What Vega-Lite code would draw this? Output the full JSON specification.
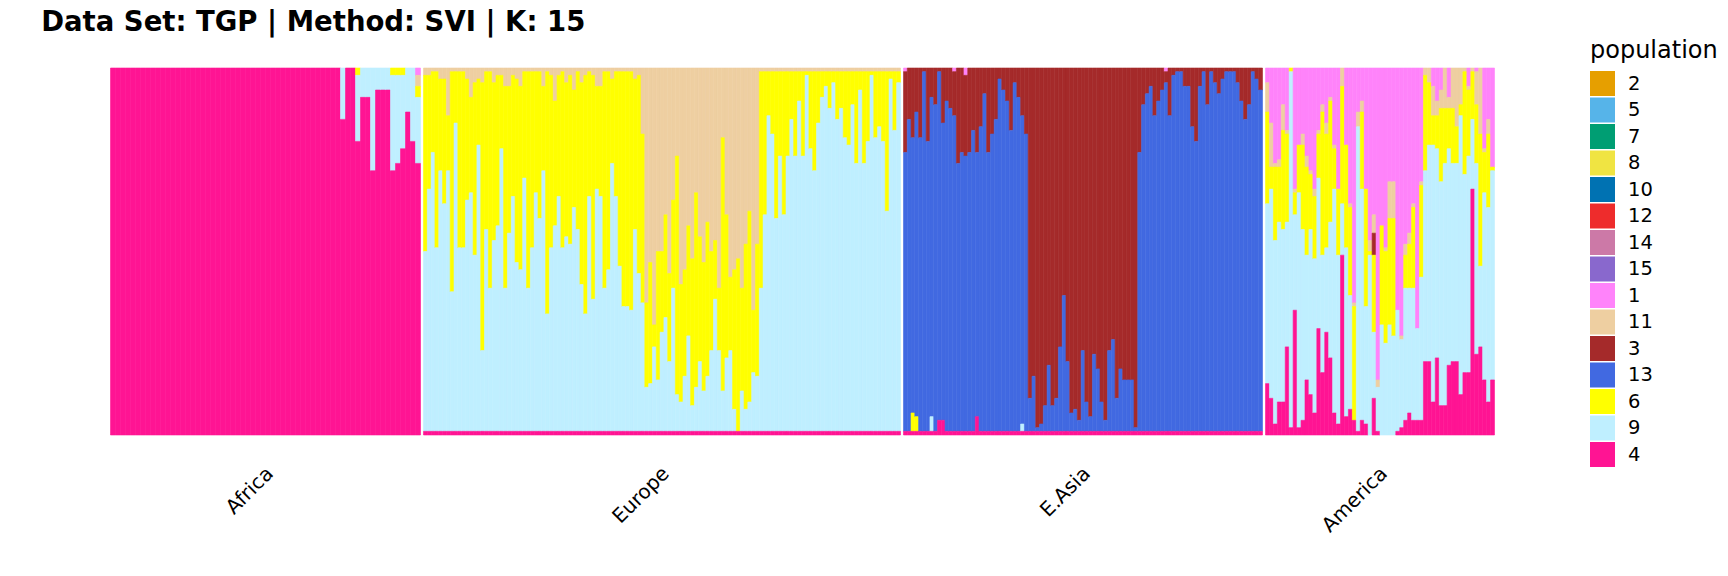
{
"$schema":"https://vega.github.io/schema/vega-lite/v6.json",
"background":"white",
"padding":{"left":40.5,"top":8,"right":0,"bottom":0},
"title":{"text":"Data Set: TGP | Method: SVI | K: 15","anchor":"start","dx":-69,"font":"DejaVu Sans","fontSize":27.5,"fontWeight":"bold","color":"black","offset":3},
"datasets":{
"ranks":[{"k":"4","rk":1},{"k":"9","rk":2},{"k":"6","rk":3},{"k":"13","rk":4},{"k":"3","rk":5},{"k":"11","rk":6},{"k":"1","rk":7},{"k":"15","rk":8},{"k":"14","rk":9},{"k":"12","rk":10},{"k":"10","rk":11},{"k":"8","rk":12},{"k":"7","rk":13},{"k":"5","rk":14},{"k":"2","rk":15}],
"q":[
{"r":"Africa","i":1,"4":100},{"r":"Africa","i":2,"4":100},{"r":"Africa","i":3,"4":100},{"r":"Africa","i":4,"4":100},{"r":"Africa","i":5,"4":100},{"r":"Africa","i":6,"4":100},{"r":"Africa","i":7,"4":100},{"r":"Africa","i":8,"4":100},{"r":"Africa","i":9,"4":100},{"r":"Africa","i":10,"4":100},
{"r":"Africa","i":11,"4":100},{"r":"Africa","i":12,"4":100},{"r":"Africa","i":13,"4":100},{"r":"Africa","i":14,"4":100},{"r":"Africa","i":15,"4":100},{"r":"Africa","i":16,"4":100},{"r":"Africa","i":17,"4":100},{"r":"Africa","i":18,"4":100},{"r":"Africa","i":19,"4":100},{"r":"Africa","i":20,"4":100},
{"r":"Africa","i":21,"4":100},{"r":"Africa","i":22,"4":100},{"r":"Africa","i":23,"4":100},{"r":"Africa","i":24,"4":100},{"r":"Africa","i":25,"4":100},{"r":"Africa","i":26,"4":100},{"r":"Africa","i":27,"4":100},{"r":"Africa","i":28,"4":100},{"r":"Africa","i":29,"4":100},{"r":"Africa","i":30,"4":100},
{"r":"Africa","i":31,"4":100},{"r":"Africa","i":32,"4":100},{"r":"Africa","i":33,"4":100},{"r":"Africa","i":34,"4":100},{"r":"Africa","i":35,"4":100},{"r":"Africa","i":36,"4":100},{"r":"Africa","i":37,"4":100},{"r":"Africa","i":38,"4":100},{"r":"Africa","i":39,"4":100},{"r":"Africa","i":40,"4":100},
{"r":"Africa","i":41,"4":100},{"r":"Africa","i":42,"4":100},{"r":"Africa","i":43,"4":100},{"r":"Africa","i":44,"4":100},{"r":"Africa","i":45,"4":100},{"r":"Africa","i":46,"4":100},
{"r":"Africa","i":47,"9":14,"4":86},{"r":"Africa","i":48,"4":100},{"r":"Africa","i":49,"4":100},{"r":"Africa","i":50,"6":2,"9":18,"4":80},{"r":"Africa","i":51,"9":8,"4":92},{"r":"Africa","i":52,"9":8,"4":92},{"r":"Africa","i":53,"9":28,"4":72},{"r":"Africa","i":54,"9":6,"4":94},{"r":"Africa","i":55,"9":6,"4":94},{"r":"Africa","i":56,"9":6,"4":94},{"r":"Africa","i":57,"6":2,"9":26,"4":72},{"r":"Africa","i":58,"6":2,"9":24,"4":74},{"r":"Africa","i":59,"6":2,"9":20,"4":78},{"r":"Africa","i":60,"9":12,"4":88},{"r":"Africa","i":61,"9":20,"4":80},{"r":"Africa","i":62,"11":3,"6":3,"9":18,"1":2,"4":74},
{"r":"Europe","i":1,"11":2,"6":48,"9":49,"4":1},{"r":"Europe","i":2,"11":2,"6":31,"9":66,"4":1},{"r":"Europe","i":3,"11":1,"6":22,"9":76,"4":1},{"r":"Europe","i":4,"11":1,"6":48,"9":50,"4":1},{"r":"Europe","i":5,"11":3,"6":25,"9":71,"4":1},{"r":"Europe","i":6,"11":3,"6":34,"9":62,"4":1},{"r":"Europe","i":7,"11":13,"6":15,"9":71,"4":1},{"r":"Europe","i":8,"11":1,"6":60,"9":38,"4":1},{"r":"Europe","i":9,"11":1,"6":14,"9":84,"4":1},{"r":"Europe","i":10,"11":1,"6":48,"9":50,"4":1},
{"r":"Europe","i":11,"11":1,"6":48,"9":50,"4":1},{"r":"Europe","i":12,"11":3,"6":33,"9":63,"4":1},{"r":"Europe","i":13,"11":8,"6":26,"9":65,"4":1},{"r":"Europe","i":14,"11":4,"6":47,"9":48,"4":1},{"r":"Europe","i":15,"11":3,"6":18,"9":78,"4":1},{"r":"Europe","i":16,"11":4,"6":73,"9":22,"4":1},{"r":"Europe","i":17,"11":1,"6":43,"9":55,"4":1},{"r":"Europe","i":18,"11":1,"6":59,"9":39,"4":1},{"r":"Europe","i":19,"11":4,"6":43,"9":52,"4":1},{"r":"Europe","i":20,"11":2,"6":41,"9":56,"4":1},
{"r":"Europe","i":21,"11":2,"6":20,"9":77,"4":1},{"r":"Europe","i":22,"11":5,"6":55,"9":39,"4":1},{"r":"Europe","i":23,"11":5,"6":40,"9":54,"4":1},{"r":"Europe","i":24,"11":2,"6":33,"9":64,"4":1},{"r":"Europe","i":25,"11":3,"6":50,"9":46,"4":1},{"r":"Europe","i":26,"11":5,"6":50,"9":44,"4":1},{"r":"Europe","i":27,"11":1,"6":29,"9":69,"4":1},{"r":"Europe","i":28,"11":1,"6":59,"9":39,"4":1},{"r":"Europe","i":29,"11":1,"6":48,"9":50,"4":1},{"r":"Europe","i":30,"11":1,"6":33,"9":65,"4":1},
{"r":"Europe","i":31,"11":1,"6":40,"9":58,"4":1},{"r":"Europe","i":32,"11":5,"6":23,"9":71,"4":1},{"r":"Europe","i":33,"11":1,"6":66,"9":32,"4":1},{"r":"Europe","i":34,"11":2,"6":47,"9":50,"4":1},{"r":"Europe","i":35,"11":9,"6":34,"9":56,"4":1},{"r":"Europe","i":36,"11":2,"6":33,"9":64,"4":1},{"r":"Europe","i":37,"11":1,"6":48,"9":50,"4":1},{"r":"Europe","i":38,"11":4,"6":42,"9":53,"4":1},{"r":"Europe","i":39,"11":2,"6":46,"9":51,"4":1},{"r":"Europe","i":40,"11":6,"6":32,"9":61,"4":1},
{"r":"Europe","i":41,"11":1,"6":43,"9":55,"4":1},{"r":"Europe","i":42,"11":4,"6":55,"9":40,"4":1},{"r":"Europe","i":43,"11":2,"6":65,"9":32,"4":1},{"r":"Europe","i":44,"11":1,"6":34,"9":64,"4":1},{"r":"Europe","i":45,"11":2,"6":61,"9":36,"4":1},{"r":"Europe","i":46,"11":5,"6":28,"9":66,"4":1},{"r":"Europe","i":47,"11":5,"6":30,"9":64,"4":1},{"r":"Europe","i":48,"11":1,"6":59,"9":39,"4":1},{"r":"Europe","i":49,"11":1,"6":54,"9":44,"4":1},{"r":"Europe","i":50,"11":3,"6":23,"9":73,"4":1},
{"r":"Europe","i":51,"11":1,"6":34,"9":64,"4":1},{"r":"Europe","i":52,"11":1,"6":53,"9":45,"4":1},{"r":"Europe","i":53,"11":1,"6":64,"9":34,"4":1},{"r":"Europe","i":54,"11":1,"6":64,"9":34,"4":1},{"r":"Europe","i":55,"11":1,"6":65,"9":33,"4":1},{"r":"Europe","i":56,"11":3,"6":41,"9":55,"4":1},{"r":"Europe","i":57,"11":2,"6":54,"9":43,"4":1},{"r":"Europe","i":58,"11":18,"6":46,"9":35,"4":1},
{"r":"Europe","i":59,"11":64,"6":23,"9":12,"4":1},{"r":"Europe","i":60,"11":53,"6":33,"9":13,"4":1},{"r":"Europe","i":61,"11":70,"6":6,"9":23,"4":1},{"r":"Europe","i":62,"11":50,"6":35,"9":14,"4":1},{"r":"Europe","i":63,"11":50,"6":22,"9":27,"4":1},{"r":"Europe","i":64,"11":40,"6":28,"9":31,"4":1},{"r":"Europe","i":65,"11":56,"6":24,"9":19,"4":1},{"r":"Europe","i":66,"11":36,"6":24,"9":39,"4":1},{"r":"Europe","i":67,"11":24,"6":65,"9":10,"4":1},{"r":"Europe","i":68,"11":59,"6":32,"9":8,"4":1},
{"r":"Europe","i":69,"11":55,"6":29,"9":15,"4":1},{"r":"Europe","i":70,"11":43,"6":30,"9":26,"4":1},{"r":"Europe","i":71,"11":52,"6":40,"9":7,"4":1},{"r":"Europe","i":72,"11":34,"6":53,"9":12,"4":1},{"r":"Europe","i":73,"11":46,"6":34,"9":19,"4":1},{"r":"Europe","i":74,"11":53,"6":35,"9":11,"4":1},{"r":"Europe","i":75,"11":42,"6":42,"9":15,"4":1},{"r":"Europe","i":76,"11":50,"6":27,"9":22,"4":1},{"r":"Europe","i":77,"11":47,"6":16,"9":36,"4":1},{"r":"Europe","i":78,"11":60,"6":17,"9":22,"4":1},
{"r":"Europe","i":79,"11":19,"6":69,"9":11,"4":1},{"r":"Europe","i":80,"11":40,"6":39,"9":20,"4":1},{"r":"Europe","i":81,"11":57,"6":20,"9":22,"4":1},{"r":"Europe","i":82,"11":55,"6":38,"9":6,"4":1},{"r":"Europe","i":83,"11":52,"6":47,"4":1},{"r":"Europe","i":84,"11":60,"6":28,"9":11,"4":1},{"r":"Europe","i":85,"11":48,"6":45,"9":6,"4":1},{"r":"Europe","i":86,"11":39,"6":52,"9":8,"4":1},{"r":"Europe","i":87,"11":66,"6":17,"9":16,"4":1},{"r":"Europe","i":88,"11":48,"6":36,"9":15,"4":1},
{"r":"Europe","i":89,"11":1,"6":59,"9":39,"4":1},{"r":"Europe","i":90,"11":1,"6":39,"9":59,"4":1},{"r":"Europe","i":91,"11":1,"6":12,"9":86,"4":1},{"r":"Europe","i":92,"11":1,"6":17,"9":81,"4":1},{"r":"Europe","i":93,"11":1,"6":40,"9":58,"4":1},{"r":"Europe","i":94,"11":1,"6":23,"9":75,"4":1},{"r":"Europe","i":95,"11":1,"6":39,"9":59,"4":1},{"r":"Europe","i":96,"11":1,"6":23,"9":75,"4":1},{"r":"Europe","i":97,"11":1,"6":13,"9":85,"4":1},{"r":"Europe","i":98,"11":1,"6":23,"9":75,"4":1},
{"r":"Europe","i":99,"11":1,"6":8,"9":90,"4":1},{"r":"Europe","i":100,"11":1,"6":23,"9":75,"4":1},{"r":"Europe","i":101,"11":1,"6":1,"9":97,"4":1},{"r":"Europe","i":102,"11":1,"6":21,"9":77,"4":1},{"r":"Europe","i":103,"11":1,"6":27,"9":71,"4":1},{"r":"Europe","i":104,"11":1,"6":14,"9":84,"4":1},{"r":"Europe","i":105,"11":1,"6":7,"9":91,"4":1},{"r":"Europe","i":106,"11":1,"6":4,"9":94,"4":1},{"r":"Europe","i":107,"11":1,"6":10,"9":88,"4":1},{"r":"Europe","i":108,"11":1,"6":3,"9":95,"4":1},
{"r":"Europe","i":109,"11":1,"6":13,"9":85,"4":1},{"r":"Europe","i":110,"11":1,"6":10,"9":88,"4":1},{"r":"Europe","i":111,"11":1,"6":18,"9":80,"4":1},{"r":"Europe","i":112,"11":1,"6":20,"9":78,"4":1},{"r":"Europe","i":113,"11":1,"6":9,"9":89,"4":1},{"r":"Europe","i":114,"11":1,"6":25,"9":73,"4":1},{"r":"Europe","i":115,"11":1,"6":5,"9":93,"4":1},{"r":"Europe","i":116,"11":1,"6":25,"9":73,"4":1},{"r":"Europe","i":117,"11":1,"6":19,"9":79,"4":1},{"r":"Europe","i":118,"11":1,"6":1,"9":97,"4":1},
{"r":"Europe","i":119,"11":1,"6":18,"9":80,"4":1},{"r":"Europe","i":120,"11":1,"6":15,"9":83,"4":1},{"r":"Europe","i":121,"11":1,"6":19,"9":79,"4":1},{"r":"Europe","i":122,"11":1,"6":38,"9":60,"4":1},{"r":"Europe","i":123,"11":1,"6":2,"9":96,"4":1},{"r":"Europe","i":124,"11":1,"6":16,"9":82,"4":1},{"r":"Europe","i":125,"11":1,"6":3,"9":95,"4":1},
{"r":"E.Asia","i":1,"1":1,"3":22,"13":76,"4":1},{"r":"E.Asia","i":2,"3":14,"13":85,"4":1},{"r":"E.Asia","i":3,"3":19,"13":75,"6":5,"4":1},{"r":"E.Asia","i":4,"3":12,"13":83,"6":4,"4":1},{"r":"E.Asia","i":5,"3":19,"13":80,"4":1},{"r":"E.Asia","i":6,"3":1,"13":98,"4":1},{"r":"E.Asia","i":7,"3":20,"13":79,"4":1},{"r":"E.Asia","i":8,"3":8,"13":87,"9":4,"4":1},{"r":"E.Asia","i":9,"3":10,"13":89,"4":1},{"r":"E.Asia","i":10,"3":1,"13":95,"4":4},
{"r":"E.Asia","i":11,"3":15,"13":81,"4":4},{"r":"E.Asia","i":12,"3":9,"13":90,"4":1},{"r":"E.Asia","i":13,"3":11,"13":88,"4":1},{"r":"E.Asia","i":14,"1":1,"3":12,"13":86,"4":1},{"r":"E.Asia","i":15,"3":26,"13":73,"4":1},{"r":"E.Asia","i":16,"3":23,"13":76,"4":1},{"r":"E.Asia","i":17,"1":2,"3":22,"13":75,"4":1},{"r":"E.Asia","i":18,"3":23,"13":76,"4":1},{"r":"E.Asia","i":19,"3":17,"13":82,"4":1},{"r":"E.Asia","i":20,"3":23,"13":72,"4":5},
{"r":"E.Asia","i":21,"3":16,"13":83,"4":1},{"r":"E.Asia","i":22,"3":7,"13":92,"4":1},{"r":"E.Asia","i":23,"3":23,"13":76,"4":1},{"r":"E.Asia","i":24,"3":18,"13":81,"4":1},{"r":"E.Asia","i":25,"3":14,"13":85,"4":1},{"r":"E.Asia","i":26,"3":3,"13":96,"4":1},{"r":"E.Asia","i":27,"3":6,"13":93,"4":1},{"r":"E.Asia","i":28,"3":9,"13":90,"4":1},{"r":"E.Asia","i":29,"3":17,"13":82,"4":1},{"r":"E.Asia","i":30,"3":4,"13":95,"4":1},
{"r":"E.Asia","i":31,"3":8,"13":91,"4":1},{"r":"E.Asia","i":32,"3":13,"13":84,"9":2,"4":1},{"r":"E.Asia","i":33,"3":18,"13":81,"4":1},
{"r":"E.Asia","i":34,"3":90,"13":9,"4":1},{"r":"E.Asia","i":35,"3":84,"13":15,"4":1},{"r":"E.Asia","i":36,"3":98,"13":1,"4":1},{"r":"E.Asia","i":37,"3":97,"13":2,"4":1},{"r":"E.Asia","i":38,"3":92,"13":7,"4":1},{"r":"E.Asia","i":39,"3":81,"13":18,"4":1},{"r":"E.Asia","i":40,"3":92,"13":7,"4":1},{"r":"E.Asia","i":41,"3":90,"13":9,"4":1},{"r":"E.Asia","i":42,"3":76,"13":23,"4":1},{"r":"E.Asia","i":43,"3":62,"13":37,"4":1},
{"r":"E.Asia","i":44,"3":80,"13":19,"4":1},{"r":"E.Asia","i":45,"3":94,"13":5,"4":1},{"r":"E.Asia","i":46,"3":93,"13":6,"4":1},{"r":"E.Asia","i":47,"3":96,"13":3,"4":1},{"r":"E.Asia","i":48,"3":77,"13":22,"4":1},{"r":"E.Asia","i":49,"3":91,"13":8,"4":1},{"r":"E.Asia","i":50,"3":95,"13":4,"4":1},{"r":"E.Asia","i":51,"3":78,"13":21,"4":1},{"r":"E.Asia","i":52,"3":82,"13":17,"4":1},{"r":"E.Asia","i":53,"3":91,"13":8,"4":1},
{"r":"E.Asia","i":54,"3":96,"13":3,"4":1},{"r":"E.Asia","i":55,"3":77,"13":22,"4":1},{"r":"E.Asia","i":56,"3":74,"13":25,"4":1},{"r":"E.Asia","i":57,"3":90,"13":9,"4":1},{"r":"E.Asia","i":58,"3":82,"13":17,"4":1},{"r":"E.Asia","i":59,"3":85,"13":14,"4":1},{"r":"E.Asia","i":60,"3":85,"13":14,"4":1},{"r":"E.Asia","i":61,"3":85,"13":14,"4":1},{"r":"E.Asia","i":62,"3":98,"13":1,"4":1},
{"r":"E.Asia","i":63,"3":23,"13":76,"4":1},{"r":"E.Asia","i":64,"3":10,"13":89,"4":1},{"r":"E.Asia","i":65,"3":7,"13":92,"4":1},{"r":"E.Asia","i":66,"3":5,"13":94,"4":1},{"r":"E.Asia","i":67,"3":13,"13":86,"4":1},{"r":"E.Asia","i":68,"3":9,"13":90,"4":1},{"r":"E.Asia","i":69,"3":6,"13":93,"4":1},{"r":"E.Asia","i":70,"1":1,"3":3,"13":95,"4":1},{"r":"E.Asia","i":71,"3":13,"13":86,"4":1},{"r":"E.Asia","i":72,"3":2,"13":97,"4":1},
{"r":"E.Asia","i":73,"3":1,"13":98,"4":1},{"r":"E.Asia","i":74,"3":1,"13":98,"4":1},{"r":"E.Asia","i":75,"3":5,"13":94,"4":1},{"r":"E.Asia","i":76,"3":5,"13":94,"4":1},{"r":"E.Asia","i":77,"3":16,"13":83,"4":1},{"r":"E.Asia","i":78,"3":20,"13":79,"4":1},{"r":"E.Asia","i":79,"3":5,"13":94,"4":1},{"r":"E.Asia","i":80,"3":1,"13":98,"4":1},{"r":"E.Asia","i":81,"3":10,"13":89,"4":1},{"r":"E.Asia","i":82,"3":1,"13":98,"4":1},
{"r":"E.Asia","i":83,"3":4,"13":95,"4":1},{"r":"E.Asia","i":84,"3":7,"13":92,"4":1},{"r":"E.Asia","i":85,"3":3,"13":96,"4":1},{"r":"E.Asia","i":86,"3":1,"13":98,"4":1},{"r":"E.Asia","i":87,"3":1,"13":98,"4":1},{"r":"E.Asia","i":88,"3":1,"13":98,"4":1},{"r":"E.Asia","i":89,"3":4,"13":95,"4":1},{"r":"E.Asia","i":90,"3":9,"13":90,"4":1},{"r":"E.Asia","i":91,"3":14,"13":85,"4":1},{"r":"E.Asia","i":92,"3":10,"13":89,"4":1},
{"r":"E.Asia","i":93,"3":1,"13":98,"4":1},{"r":"E.Asia","i":94,"3":3,"13":96,"4":1},{"r":"E.Asia","i":95,"3":6,"13":93,"4":1},
{"r":"America","i":1,"1":4,"11":8,"6":25,"9":49,"4":14},{"r":"America","i":2,"1":15,"11":12,"6":6,"9":57,"4":10},{"r":"America","i":3,"1":26,"11":1,"6":20,"9":50,"4":3},{"r":"America","i":4,"1":25,"11":2,"6":15,"9":49,"4":9},{"r":"America","i":5,"1":10,"11":7,"6":27,"9":47,"4":9},{"r":"America","i":6,"1":17,"11":1,"6":24,"9":34,"4":24},{"r":"America","i":7,"6":1,"9":97,"4":2},{"r":"America","i":8,"1":33,"11":1,"6":6,"9":26,"4":34},{"r":"America","i":9,"1":21,"6":13,"9":64,"4":2},{"r":"America","i":10,"1":18,"11":3,"6":23,"9":52,"4":4},
{"r":"America","i":11,"1":24,"11":3,"6":24,"9":34,"4":15},{"r":"America","i":12,"1":28,"11":1,"6":15,"9":45,"4":11},{"r":"America","i":13,"1":33,"11":2,"6":17,"9":42,"4":6},{"r":"America","i":14,"1":17,"11":1,"6":12,"9":41,"4":29},{"r":"America","i":15,"1":10,"11":2,"6":39,"9":32,"4":17},{"r":"America","i":16,"1":15,"11":3,"6":31,"9":23,"4":28},{"r":"America","i":17,"1":8,"11":1,"6":33,"9":37,"4":21},{"r":"America","i":18,"1":21,"11":1,"6":11,"9":61,"4":6},{"r":"America","i":19,"1":33,"6":18,"9":46,"4":3},{"r":"America","i":20,"11":5,"6":32,"9":14,"4":49},
{"r":"America","i":21,"1":21,"6":28,"9":46,"4":5},{"r":"America","i":22,"1":37,"11":1,"6":24,"9":31,"4":7},{"r":"America","i":23,"1":64,"11":1,"6":31,"4":4},{"r":"America","i":24,"1":12,"11":4,"9":83,"4":1},{"r":"America","i":25,"1":9,"11":3,"6":21,"9":63,"4":4},{"r":"America","i":26,"1":33,"6":32,"9":32,"4":3},{"r":"America","i":27,"1":47,"11":3,"6":1,"9":49},{"r":"America","i":28,"1":40,"11":5,"3":6,"6":21,"9":18,"4":10},{"r":"America","i":29,"1":85,"11":2,"9":12,"4":1},{"r":"America","i":30,"1":43,"6":27,"9":30},
{"r":"America","i":31,"1":49,"11":1,"6":25,"9":25},{"r":"America","i":32,"1":31,"11":10,"6":29,"9":30},{"r":"America","i":33,"1":31,"11":10,"6":32,"9":27},{"r":"America","i":34,"1":66,"9":33,"4":1},{"r":"America","i":35,"1":73,"11":1,"9":24,"4":2},{"r":"America","i":36,"1":48,"11":3,"6":9,"9":36,"4":4},{"r":"America","i":37,"1":45,"11":3,"6":12,"9":34,"4":6},{"r":"America","i":38,"1":37,"11":1,"6":22,"9":36,"4":4},{"r":"America","i":39,"1":71,"9":25,"4":4},{"r":"America","i":40,"1":31,"11":1,"6":25,"9":39,"4":4},
{"r":"America","i":41,"11":2,"6":26,"9":52,"4":20},{"r":"America","i":42,"11":4,"6":17,"9":59,"4":20},{"r":"America","i":43,"1":5,"11":8,"6":8,"9":70,"4":9},{"r":"America","i":44,"1":9,"11":4,"6":9,"9":57,"4":21},{"r":"America","i":45,"1":6,"11":5,"6":20,"9":61,"4":8},{"r":"America","i":46,"11":11,"6":15,"9":66,"4":8},{"r":"America","i":47,"1":8,"11":3,"6":11,"9":59,"4":19},{"r":"America","i":48,"11":11,"6":15,"9":54,"4":20},{"r":"America","i":49,"11":16,"6":10,"9":54,"4":20},{"r":"America","i":50,"11":10,"6":3,"9":76,"4":11},
{"r":"America","i":51,"11":1,"6":28,"9":54,"4":17},{"r":"America","i":52,"1":5,"11":1,"6":18,"9":59,"4":17},{"r":"America","i":53,"11":1,"6":13,"9":19,"4":67},{"r":"America","i":54,"1":1,"11":9,"6":16,"9":52,"4":22},{"r":"America","i":55,"11":18,"6":36,"9":22,"4":24},{"r":"America","i":56,"1":22,"11":1,"6":11,"9":51,"4":15},{"r":"America","i":57,"1":14,"11":4,"6":20,"9":53,"4":9},{"r":"America","i":58,"1":27,"6":1,"9":57,"4":15}
]},
"data":{"name":"q"},
"transform":[
{"fold":["2","5","7","8","10","12","14","15","1","11","3","13","6","9","4"],"as":["population","p"]},
{"filter":"datum.p > 0"},
{"lookup":"population","from":{"data":{"name":"ranks"},"key":"k","fields":["rk"]}}
],
"spacing":1,
"hconcat":[
{"width":310,"height":367,"transform":[{"filter":"datum.r == 'Africa'"}],"mark":{"type":"bar","strokeWidth":0.6},
"encoding":{"x":{"field":"i","type":"ordinal","scale":{"paddingInner":0,"paddingOuter":0},"axis":{"title":"Africa","titleX":152,"titleY":28}},
"y":{"field":"p","type":"quantitative","stack":"normalize","axis":null},
"color":{"field":"population","type":"nominal","scale":{"domain":["2","5","7","8","10","12","14","15","1","11","3","13","6","9","4"],"range":["#E69F00","#56B4E9","#009E73","#F0E442","#0072B2","#EE2C2C","#CC79A7","#8968CD","#FF83FA","#EECFA1","#A52A2A","#4169E1","#FFFF00","#BFEFFF","#FF1493"]},"legend":{"title":"population","orient":"none","legendX":1479.5,"legendY":-29}},
"stroke":{"field":"population","type":"nominal","scale":{"domain":["2","5","7","8","10","12","14","15","1","11","3","13","6","9","4"],"range":["#E69F00","#56B4E9","#009E73","#F0E442","#0072B2","#EE2C2C","#CC79A7","#8968CD","#FF83FA","#EECFA1","#A52A2A","#4169E1","#FFFF00","#BFEFFF","#FF1493"]},"legend":null},
"order":{"field":"rk","type":"quantitative"}}},
{"width":477,"height":367,"transform":[{"filter":"datum.r == 'Europe'"}],"mark":{"type":"bar","strokeWidth":0.6},
"encoding":{"x":{"field":"i","type":"ordinal","scale":{"paddingInner":0,"paddingOuter":0},"axis":{"title":"Europe","titleX":235,"titleY":28}},
"y":{"field":"p","type":"quantitative","stack":"normalize","axis":null},
"color":{"field":"population","type":"nominal","scale":{"domain":["2","5","7","8","10","12","14","15","1","11","3","13","6","9","4"],"range":["#E69F00","#56B4E9","#009E73","#F0E442","#0072B2","#EE2C2C","#CC79A7","#8968CD","#FF83FA","#EECFA1","#A52A2A","#4169E1","#FFFF00","#BFEFFF","#FF1493"]},"legend":{"title":"population","orient":"none","legendX":1479.5,"legendY":-29}},
"stroke":{"field":"population","type":"nominal","scale":{"domain":["2","5","7","8","10","12","14","15","1","11","3","13","6","9","4"],"range":["#E69F00","#56B4E9","#009E73","#F0E442","#0072B2","#EE2C2C","#CC79A7","#8968CD","#FF83FA","#EECFA1","#A52A2A","#4169E1","#FFFF00","#BFEFFF","#FF1493"]},"legend":null},
"order":{"field":"rk","type":"quantitative"}}},
{"width":359,"height":367,"transform":[{"filter":"datum.r == 'E.Asia'"}],"mark":{"type":"bar","strokeWidth":0.6},
"encoding":{"x":{"field":"i","type":"ordinal","scale":{"paddingInner":0,"paddingOuter":0},"axis":{"title":"E.Asia","titleX":176,"titleY":28}},
"y":{"field":"p","type":"quantitative","stack":"normalize","axis":null},
"color":{"field":"population","type":"nominal","scale":{"domain":["2","5","7","8","10","12","14","15","1","11","3","13","6","9","4"],"range":["#E69F00","#56B4E9","#009E73","#F0E442","#0072B2","#EE2C2C","#CC79A7","#8968CD","#FF83FA","#EECFA1","#A52A2A","#4169E1","#FFFF00","#BFEFFF","#FF1493"]},"legend":{"title":"population","orient":"none","legendX":1479.5,"legendY":-29}},
"stroke":{"field":"population","type":"nominal","scale":{"domain":["2","5","7","8","10","12","14","15","1","11","3","13","6","9","4"],"range":["#E69F00","#56B4E9","#009E73","#F0E442","#0072B2","#EE2C2C","#CC79A7","#8968CD","#FF83FA","#EECFA1","#A52A2A","#4169E1","#FFFF00","#BFEFFF","#FF1493"]},"legend":null},
"order":{"field":"rk","type":"quantitative"}}},
{"width":229,"height":367,"transform":[{"filter":"datum.r == 'America'"}],"mark":{"type":"bar","strokeWidth":0.6},
"encoding":{"x":{"field":"i","type":"ordinal","scale":{"paddingInner":0,"paddingOuter":0},"axis":{"title":"America","titleX":111,"titleY":28}},
"y":{"field":"p","type":"quantitative","stack":"normalize","axis":null},
"color":{"field":"population","type":"nominal","scale":{"domain":["2","5","7","8","10","12","14","15","1","11","3","13","6","9","4"],"range":["#E69F00","#56B4E9","#009E73","#F0E442","#0072B2","#EE2C2C","#CC79A7","#8968CD","#FF83FA","#EECFA1","#A52A2A","#4169E1","#FFFF00","#BFEFFF","#FF1493"]},"legend":{"title":"population","orient":"none","legendX":1479.5,"legendY":-29}},
"stroke":{"field":"population","type":"nominal","scale":{"domain":["2","5","7","8","10","12","14","15","1","11","3","13","6","9","4"],"range":["#E69F00","#56B4E9","#009E73","#F0E442","#0072B2","#EE2C2C","#CC79A7","#8968CD","#FF83FA","#EECFA1","#A52A2A","#4169E1","#FFFF00","#BFEFFF","#FF1493"]},"legend":null},
"order":{"field":"rk","type":"quantitative"}}}
],
"config":{
"font":"DejaVu Sans",
"view":{"stroke":null},
"axisX":{"labels":false,"ticks":false,"domain":false,"grid":false,"titleAngle":-45,"titleAlign":"right","titleBaseline":"top","titleFontSize":20,"titleFontWeight":"normal","titleColor":"black","titleFont":"DejaVu Sans"},
"legend":{"titleFontSize":24,"titleFontWeight":"normal","titleColor":"black","titleFont":"DejaVu Sans","labelFontSize":19.5,"labelColor":"black","labelFont":"DejaVu Sans","symbolType":"square","symbolSize":625,"symbolStrokeWidth":0,"symbolOpacity":1,"labelOffset":13,"rowPadding":1.5,"titlePadding":8,"padding":0}
}
}
